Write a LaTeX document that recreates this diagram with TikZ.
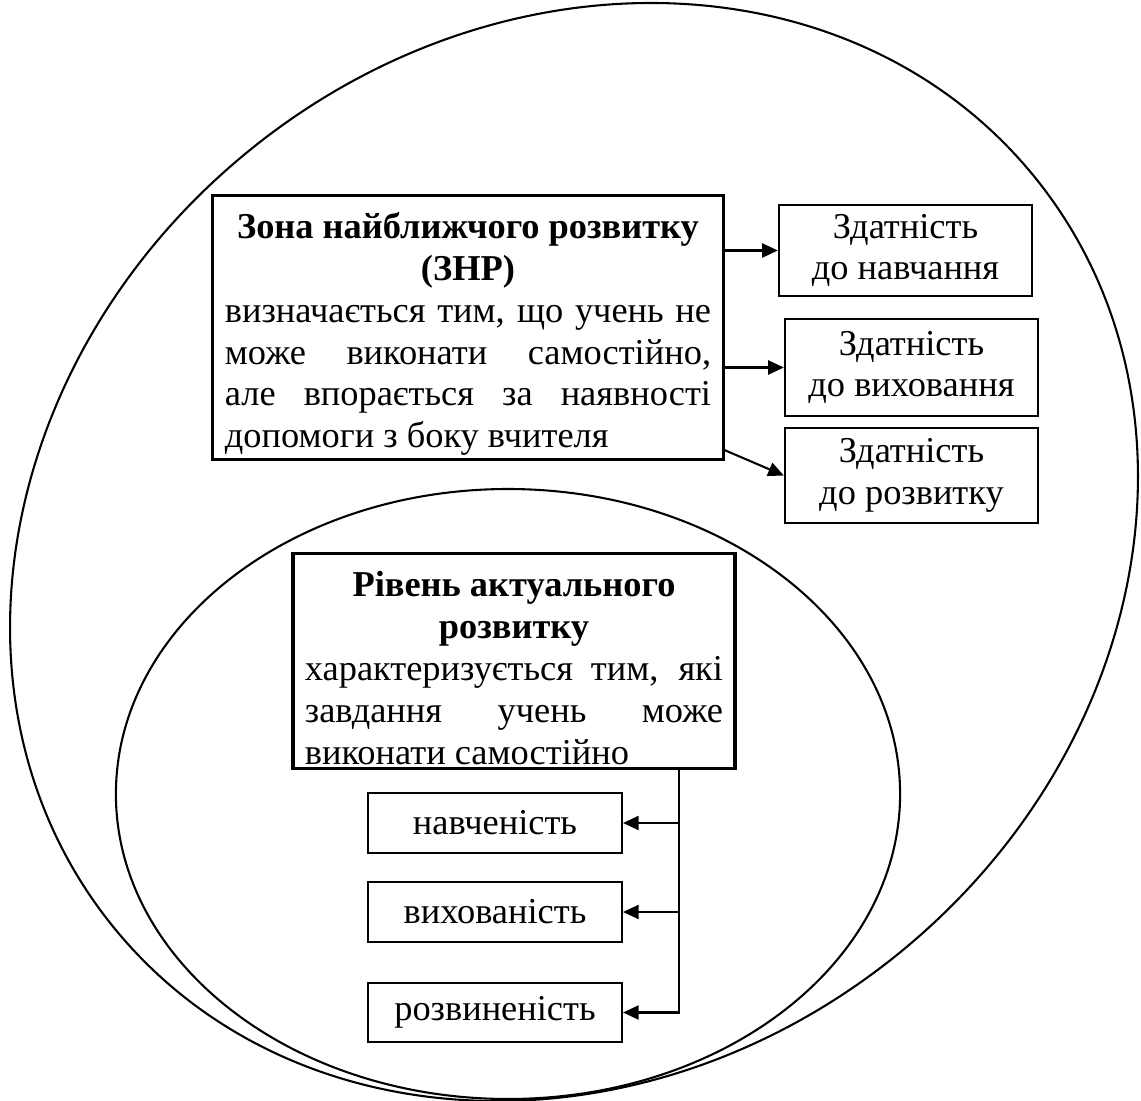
\documentclass[tikz,border=0pt]{standalone}
\usepackage{fontspec}
\setmainfont{Liberation Serif}
\usepackage{tikz}
\usetikzlibrary{arrows.meta,calc,positioning}
\setlength{\parindent}{0pt}

\begin{document}
\begin{tikzpicture}[x=0.3846pt,y=-0.3846pt,
    >={Triangle[length=6pt,width=5.4pt]},
    oval/.style={line width=0.8pt},
    mainbox/.style={draw,line width=1.2pt,align=justify,inner xsep=4.6pt,
      inner ysep=1.5pt,font=\fontsize{14}{16.1}\selectfont},
    capbox/.style={draw,line width=0.9pt,align=center,minimum width=97.3pt,
      minimum height=36pt,inner sep=0pt,font=\fontsize{14}{16.1}\selectfont},
    resbox/.style={draw,line width=0.8pt,minimum width=97.7pt,
      minimum height=23pt,inner sep=0pt,font=\fontsize{14}{16.1}\selectfont},
    link/.style={->,line width=0.8pt}]
%
  \path[clip,use as bounding box] (0,0) rectangle (1141,1101) ;
%
  \draw[oval,rotate around={39.45:(574,552)}] (574,552)
    ellipse [x radius=228.45pt,y radius=198.6pt] ;
  \draw[oval] (508,794) ellipse [x radius=150.8pt,y radius=117.3pt] ;
%
  \node[mainbox,text width=187pt] (znr) at (468,327.5) {%
    {\centering\bfseries\rule{0pt}{15pt}Зона найближчого розвитку\\(ЗНР)\par}
    визначається тим, що учень не\linebreak може виконати самостійно,\linebreak
    але впорається за наявності\linebreak допомоги з боку вчителя} ;
  \node[mainbox,text width=160.8pt] (rar) at (514,661) {%
    {\centering\bfseries\rule{0pt}{15pt}Рівень актуального\\розвитку\par}
    характеризується тим, які\linebreak завдання учень може\linebreak
    виконати самостійно} ;
%
  \node[capbox,minimum height=35pt] (s1) at (905.5,250.5) {Здатність\\до навчання} ;
  \node[capbox,minimum height=37.3pt] (s2) at (911.5,367.5) {Здатність\\до виховання} ;
  \node[capbox,minimum height=36.5pt] (s3) at (911.5,475.5) {Здатність\\до розвитку} ;
%
  \node[resbox] (r1) at (495,823) {навченість} ;
  \node[resbox] (r2) at (495,912) {вихованість} ;
  \node[resbox] (r3) at (495,1012.5) {розвиненість} ;
%
  \coordinate (split) at ([xshift=-22.3pt]rar.south east) ;
  \draw[link] (znr.east |- s1.west) -- (s1.west) ;
  \draw[link] (znr.east |- s2.west) -- (s2.west) ;
  \draw[link] ([yshift=4.2pt]znr.south east) -- (s3.west) ;
  \draw[link] (split) |- (r3.east) ;
  \draw[link] (split |- r1.east) -- (r1.east) ;
  \draw[link] (split |- r2.east) -- (r2.east) ;

\end{tikzpicture}
\end{document}
